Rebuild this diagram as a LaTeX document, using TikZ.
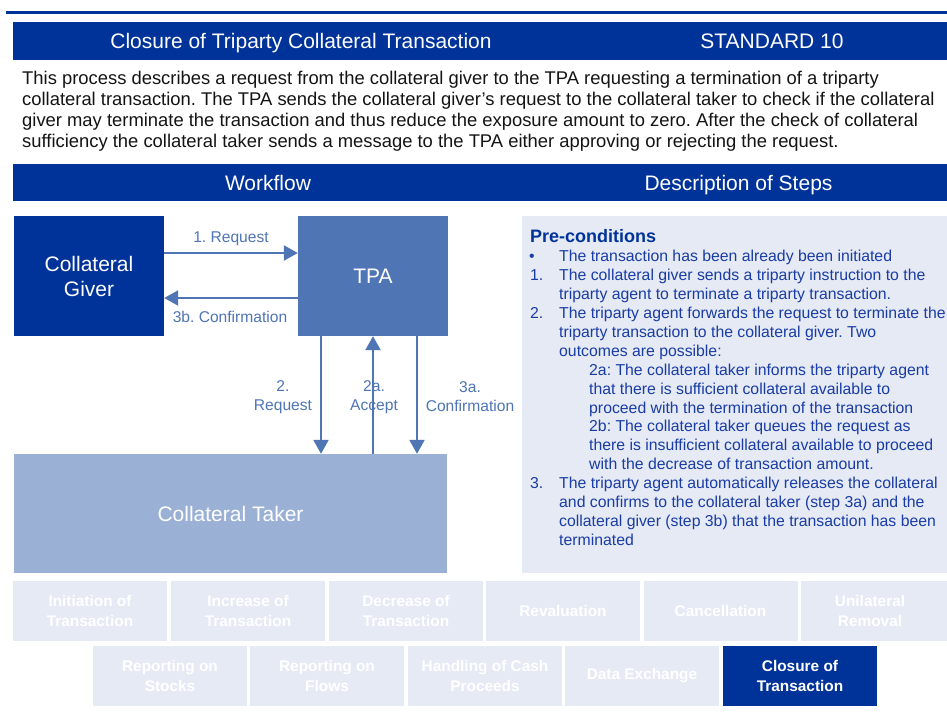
\documentclass[tikz,border=0pt]{standalone}
\usepackage{fontspec}
\setmainfont{Liberation Sans}
\usetikzlibrary{arrows.meta}
\definecolor{darkblue}{RGB}{0,51,153}
\definecolor{tpablue}{RGB}{79,117,181}
\definecolor{takerblue}{RGB}{155,176,213}
\definecolor{lightbg}{RGB}{230,234,244}
\definecolor{desctext}{RGB}{25,60,165}
\definecolor{bodytext}{RGB}{20,20,20}
\frenchspacing
\begin{document}
\begin{tikzpicture}[x=1pt,y=-1pt,
  bar/.style={fill=darkblue, inner sep=0pt, anchor=north west},
  bartext/.style={text=white, font=\fontsize{21}{25}\selectfont, anchor=base, inner sep=0pt},
  actor/.style={inner sep=0pt, text=white, align=center, font=\fontsize{21}{25}\selectfont},
  arr/.style={draw=tpablue, line width=2.3pt, -{Triangle[length=14pt,width=15pt]}},
  lbl/.style={text=tpablue, inner sep=0pt, align=center, font=\fontsize{15.6}{18.7}\selectfont},
  desc/.style={text=desctext, inner sep=0pt, anchor=base west, align=left, font=\fontsize{15.8}{18.95}\selectfont},
  tab/.style={fill=lightbg, text=white, inner sep=0pt, minimum width=154pt, minimum height=60pt, align=center, font=\fontsize{15.4}{19.5}\selectfont\bfseries},
  acttab/.style={tab, fill=darkblue}
]
\useasboundingbox (0,0) rectangle (947,715);
\fill[white] (0,0) rectangle (947,715);

% top rule
\draw[darkblue, line width=2.7pt] (6,12.7) -- (947,12.7);

% title bar
\node[bar, minimum width=934pt, minimum height=38pt] (titlebar) at (13,22) {};
\node[bartext] (titletext) at (301,48.5) {Closure of Triparty Collateral Transaction};
\node[bartext] (stdtext) at (772,48.5) {STANDARD 10};

% intro paragraph (base anchor = last line)
\node[inner sep=0pt, anchor=base west, align=left, text=bodytext,
      font=\fontsize{18.4}{21.2}\selectfont] (intro) at (22,147.6)
 {This process describes a request from the collateral giver to the TPA requesting a termination of a triparty\\
  collateral transaction. The TPA sends the collateral giver’s request to the collateral taker to check if the collateral\\
  giver may terminate the transaction and thus reduce the exposure amount to zero. After the check of collateral\\
  sufficiency the collateral taker sends a message to the TPA either approving or rejecting the request.};

% workflow bar
\node[bar, minimum width=934pt, minimum height=37pt] (wfbar) at (13,164) {};
\node[bartext] (wftext) at (268,190) {Workflow};
\node[bartext] (dstext) at (738.5,190) {Description of Steps};

% actors
\node[actor, fill=darkblue, minimum width=150pt, minimum height=120pt] (giver) at (89,276) {Collateral\\Giver};
\node[actor, fill=tpablue, minimum width=150pt, minimum height=120pt] (tpa) at (373,276) {TPA};
\node[actor, fill=takerblue, minimum width=433pt, minimum height=119pt] (taker) at (230.5,513.5) {Collateral Taker};

% arrows
\draw[arr] (giver.east |- 0,253) -- (tpa.west |- 0,253);
\draw[arr] (tpa.west |- 0,298) -- (giver.east |- 0,298);
\draw[arr] (tpa.south -| 321,0) -- (taker.north -| 321,0);
\draw[arr] (taker.north -| 373,0) -- (tpa.south -| 373,0);
\draw[arr] (tpa.south -| 417,0) -- (taker.north -| 417,0);

\node[lbl, anchor=base] (l1) at (231,242.5) {1. Request};
\node[lbl, anchor=base] (l3b) at (230,322.6) {3b. Confirmation};
\node[lbl] (l2) at (283,397.5) {2.\\Request};
\node[lbl] (l2a) at (374,397.5) {2a.\\Accept};
\node[lbl] (l3a) at (470,396.5) {3a.\\Confirmation};

% description box
\node[fill=lightbg, inner sep=0pt, anchor=north west, minimum width=425pt, minimum height=357pt] (descbox) at (522,216) {};
\node[inner sep=0pt, anchor=base west, text=darkblue, font=\fontsize{18}{21}\selectfont\bfseries] (pre) at (530,242.5) {Pre-conditions};
\node[desc] (m0) at (529,261.4) {•};
\node[desc] (t0) at (559,261.4) {The transaction has been already been initiated};
\node[desc] (m1) at (530,280.35) {1.};
\node[desc] (t1) at (559,299.3) {The collateral giver sends a triparty instruction to the\\triparty agent to terminate a triparty transaction.};
\node[desc] (m2) at (530,318.25) {2.};
\node[desc] (t2) at (559,356.15) {The triparty agent forwards the request to terminate the\\triparty transaction to the collateral giver. Two\\outcomes are possible:};
\node[desc] (t2a) at (589,469.85) {2a: The collateral taker informs the triparty agent\\that there is sufficient collateral available to\\proceed with the termination of the transaction\\2b: The collateral taker queues the request as\\there is insufficient collateral available to proceed\\with the decrease of transaction amount.};
\node[desc] (m3) at (530,488.8) {3.};
\node[desc] (t3) at (559,545.65) {The triparty agent automatically releases the collateral\\and confirms to the collateral taker (step 3a) and the\\collateral giver (step 3b) that the transaction has been\\terminated};

% tabs row 1
\node[tab] (tab1) at (90,611) {Initiation of\\Transaction};
\node[tab] (tab2) at (248,611) {Increase of\\Transaction};
\node[tab] (tab3) at (406,611) {Decrease of\\Transaction};
\node[tab] (tab4) at (563,611) {Revaluation};
\node[tab] (tab5) at (720.5,611) {Cancellation};
\node[tab, minimum width=146pt] (tab6) at (874,611) {};
\node[tab, fill=none, minimum width=0pt, minimum height=0pt] (tab6text) at (870,611) {Unilateral\\Removal};
% tabs row 2
\node[tab] (tab7) at (170,676) {Reporting on\\Stocks};
\node[tab] (tab8) at (327,676) {Reporting on\\Flows};
\node[tab] (tab9) at (485,676) {Handling of Cash\\Proceeds};
\node[tab] (tab10) at (642,676) {Data Exchange};
\node[acttab] (tab11) at (800,676) {Closure of\\Transaction};
\end{tikzpicture}
\end{document}
